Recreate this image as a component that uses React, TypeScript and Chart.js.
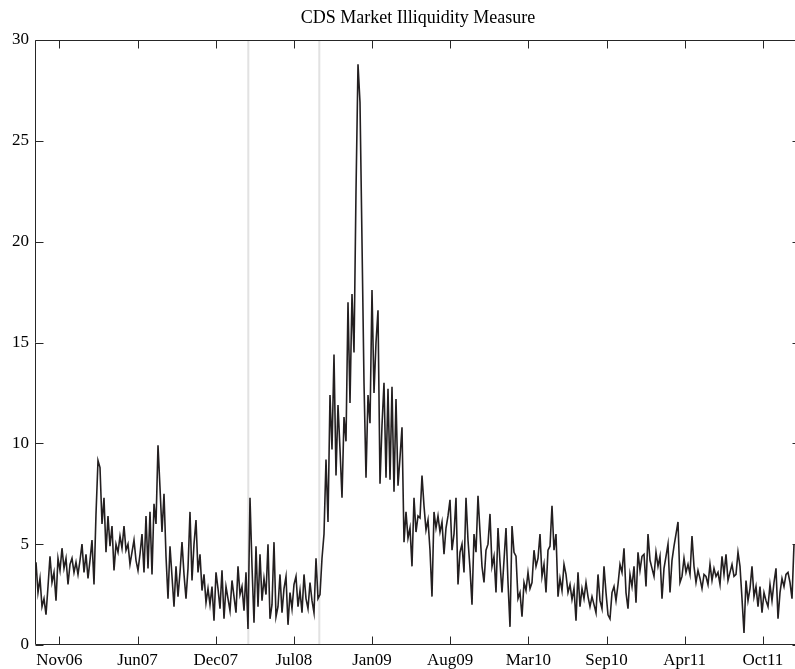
import React, { useEffect, useRef } from "react";
import { Chart, registerables } from "chart.js";

Chart.register(...registerables);

const TITLE = "CDS Market Illiquidity Measure";

const xTickLabels = ["Nov06", "Jun07", "Dec07", "Jul08", "Jan09", "Aug09", "Mar10", "Sep10", "Apr11", "Oct11"];
// positions of the date ticks, in observation-index units
const xTickPositions = [11.7, 50.78, 89.86, 128.94, 168.02, 207.1, 246.18, 285.26, 324.34, 363.42];
const yTickValues = [0, 5, 10, 15, 20, 25, 30];
// event markers (vertical light-grey lines), in observation-index units
const eventPositions = [106.15, 141.65];

const illiquidity = [
  4.1, 2.6, 3.3, 1.9, 2.3, 1.5, 2.9, 4.4, 3.1, 3.6,
  2.2, 4.3, 3.7, 4.8, 3.8, 4.3, 3.0, 4.0, 4.3, 3.6,
  4.1, 3.5, 4.2, 5.0, 3.6, 4.5, 3.3, 4.2, 5.2, 3.0,
  6.5, 9.15, 8.8, 6.0, 7.3, 4.6, 6.4, 4.9, 5.9, 3.7,
  5.0, 4.6, 5.4, 4.8, 5.9, 4.7, 5.0, 4.0, 4.6, 5.2,
  4.2, 3.7, 4.5, 5.5, 3.6, 6.4, 3.8, 6.6, 3.5, 7.0,
  6.0, 9.9, 7.8, 5.6, 7.5, 4.4, 2.3, 4.9, 3.4, 1.9,
  3.9, 2.4, 3.6, 5.1, 3.5, 2.3, 3.8, 6.6, 3.2, 5.0,
  6.2, 3.6, 4.5, 2.7, 3.5, 2.1, 2.8, 2.0, 2.9, 1.2,
  3.6, 2.8, 1.8, 3.7, 1.3, 2.9, 2.3, 1.7, 3.2, 2.4,
  1.6, 3.9, 2.5, 2.9, 1.7, 3.6, 0.8, 7.3, 3.9, 1.1,
  4.9, 1.9, 4.5, 2.2, 3.3, 2.5, 5.0, 1.3, 2.0, 5.1,
  1.4, 1.9, 3.5, 1.6, 2.8, 3.4, 1.0, 2.6, 1.8, 3.0,
  3.4, 1.9, 2.7, 1.6, 3.5, 2.3, 1.8, 3.1, 2.2, 1.6,
  4.3, 2.3, 2.5, 4.3, 5.5, 9.2, 6.1, 12.4, 9.7, 14.4,
  8.4, 11.9, 9.7, 7.3, 11.3, 10.1, 17.0, 12.0, 17.4, 14.5,
  22.5, 28.8, 26.9, 20.0, 13.0, 8.3, 12.4, 11.0, 17.6, 12.5,
  15.0, 16.6, 8.0, 10.9, 13.0, 8.3, 12.7, 8.2, 12.8, 7.6,
  12.2, 7.9, 9.3, 10.8, 5.1, 6.6, 5.3, 5.8, 3.9, 7.3,
  5.6, 6.4, 6.3, 8.4, 6.9, 5.7, 6.2, 4.7, 2.4, 6.6,
  5.8, 6.4, 5.6, 6.1, 4.5, 5.8, 6.4, 7.2, 4.7, 5.5,
  7.3, 3.0, 4.6, 5.0, 3.6, 7.3, 5.2, 3.8, 2.0, 5.5,
  4.6, 7.4, 5.6, 3.9, 3.1, 4.7, 5.0, 6.5, 3.9, 4.4,
  2.6, 5.8, 4.1, 2.6, 4.2, 5.8, 3.1, 0.9, 5.9, 4.6,
  4.4, 2.3, 2.6, 1.4, 3.1, 2.7, 3.6, 2.8, 3.1, 4.7,
  3.9, 4.3, 5.5, 3.4, 4.0, 2.6, 4.7, 4.9, 6.9, 4.7,
  5.5, 2.4, 3.3, 2.7, 4.0, 3.5, 2.6, 3.0, 2.25, 2.8,
  1.2, 3.6, 1.9, 2.8, 2.3, 3.1, 2.4, 1.9, 2.4, 2.0,
  1.6, 3.5, 2.2, 1.8, 3.9, 2.6, 1.5, 1.3, 2.6, 2.9,
  2.2, 3.0, 4.0, 3.6, 4.8, 2.6, 1.8, 3.5, 2.9, 3.9,
  2.1, 4.6, 3.7, 4.4, 4.5, 2.9, 5.5, 4.2, 3.8, 3.4,
  4.6, 3.9, 4.4, 2.3, 3.8, 4.4, 5.0, 2.6, 4.2, 4.9,
  5.5, 6.1, 3.1, 3.4, 4.3, 3.6, 4.0, 3.5, 5.4, 3.9,
  3.1, 3.7, 3.3, 2.8, 3.5, 3.4, 3.0, 4.0, 3.2, 3.8,
  3.4, 3.6, 3.0, 4.4, 3.5, 4.5, 3.2, 3.6, 4.0, 3.4,
  3.5, 4.6, 3.9, 2.3, 0.6, 3.2, 2.2, 2.8, 3.9, 2.4,
  2.9, 1.9, 2.9, 1.6, 2.6, 2.2, 1.9, 3.0, 2.2, 3.1,
  3.8, 1.3, 2.6, 3.3, 2.9, 3.5, 3.6, 3.1, 2.3, 5.0,
];

const AXIS_COLOR = "#262626";
const LINE_COLOR = "#231f20";
const EVENT_COLOR = "#e2e2e2";
const FONT_FAMILY = '"Liberation Serif", "Times New Roman", serif';

const matlabFrame = {
  id: "matlabFrame",
  afterDatasetsDraw(chart: any) {
    const { ctx, chartArea: a, scales } = chart;
    const tickLen = 8;
    ctx.save();
    ctx.strokeStyle = AXIS_COLOR;
    ctx.lineWidth = 1;
    ctx.beginPath();
    const L = a.left + 0.5;
    const R = a.right - 0.5;
    const T = a.top + 0.5;
    const B = a.bottom - 0.5;
    ctx.moveTo(L, T);
    ctx.lineTo(R, T);
    ctx.lineTo(R, B);
    ctx.lineTo(L, B);
    ctx.closePath();
    for (const t of scales.x.ticks) {
      const px = Math.round(scales.x.getPixelForValue(t.value)) + 0.5;
      ctx.moveTo(px, B);
      ctx.lineTo(px, B - tickLen);
      ctx.moveTo(px, T);
      ctx.lineTo(px, T + tickLen);
    }
    for (const t of scales.y.ticks) {
      const py = Math.round(scales.y.getPixelForValue(t.value)) + 0.5;
      ctx.moveTo(L, py);
      ctx.lineTo(L + tickLen, py);
      ctx.moveTo(R, py);
      ctx.lineTo(R - tickLen, py);
    }
    ctx.stroke();
    // title centred over the axes
    ctx.fillStyle = "#000";
    ctx.font = `18px ${FONT_FAMILY}`;
    ctx.textAlign = "center";
    ctx.textBaseline = "alphabetic";
    ctx.fillText(TITLE, (a.left + a.right) / 2, 23);
    ctx.restore();
  },
};

export default function App() {
  const ref = useRef<HTMLCanvasElement | null>(null);

  useEffect(() => {
    document.body.style.margin = "0";
    const canvas = ref.current;
    if (!canvas) return;

    const eventSets = eventPositions.map((p) => ({
      type: "line" as const,
      data: [
        { x: p, y: 0 },
        { x: p, y: 30 },
      ],
      borderColor: EVENT_COLOR,
      borderWidth: 2,
      pointRadius: 0,
      order: 2,
    }));

    const chart = new Chart(canvas, {
      type: "line",
      data: {
        datasets: [
          {
            label: "CDS Market Illiquidity Measure",
            data: illiquidity.map((v, i) => ({ x: i, y: v })),
            borderColor: LINE_COLOR,
            borderWidth: 1.6,
            pointRadius: 0,
            tension: 0,
            order: 0,
          },
          ...eventSets,
        ],
      },
      options: {
        animation: false,
        responsive: false,
        devicePixelRatio: 1,
        layout: { padding: { top: 40, right: 0, left: 0, bottom: 0 } },
        plugins: {
          legend: { display: false },
          title: { display: false },
          tooltip: { enabled: false },
        },
        scales: {
          x: {
            type: "linear",
            min: -0.5,
            max: 382.5,
            grid: { display: false, drawTicks: false },
            border: { display: false },
            afterBuildTicks: (scale: any) => {
              scale.ticks = xTickPositions.map((v) => ({ value: v }));
            },
            afterFit: (scale: any) => {
              scale.height = 24;
            },
            ticks: {
              autoSkip: false,
              maxRotation: 0,
              padding: 5,
              color: "#000",
              font: { family: FONT_FAMILY, size: 17 },
              callback: (_v: any, i: number) => xTickLabels[i],
            },
          },
          y: {
            type: "linear",
            min: 0,
            max: 30,
            grid: { display: false, drawTicks: false },
            border: { display: false },
            afterBuildTicks: (scale: any) => {
              scale.ticks = yTickValues.map((v) => ({ value: v }));
            },
            afterFit: (scale: any) => {
              scale.width = 35;
            },
            ticks: {
              padding: 6,
              color: "#000",
              font: { family: FONT_FAMILY, size: 17 },
              callback: (v: any) => String(v),
            },
          },
        },
      },
      plugins: [matlabFrame],
    });

    return () => chart.destroy();
  }, []);

  // the axes box runs a few pixels past the right edge of the window, as in the original figure
  return (
    <div style={{ width: 795, height: 669, overflow: "hidden" }}>
      <canvas ref={ref} width={801} height={669} style={{ display: "block" }} />
    </div>
  );
}
